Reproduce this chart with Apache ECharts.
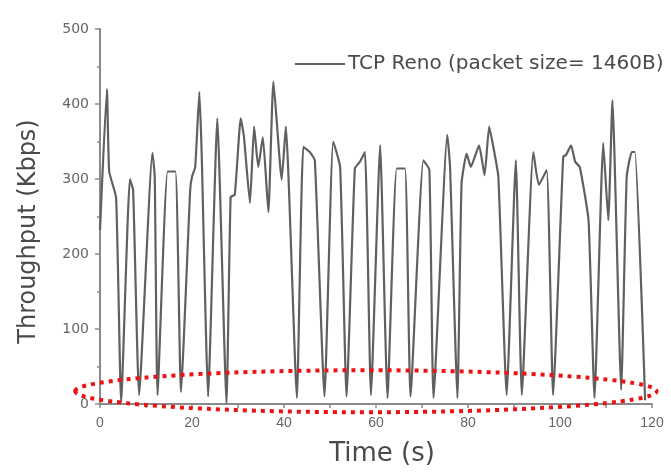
<!DOCTYPE html>
<html>
<head>
<meta charset="utf-8">
<script src="https://cdn.jsdelivr.net/npm/echarts@6/dist/echarts.min.js"></script>
<style>
html,body{margin:0;padding:0;background:#fff;}
#chart{width:671px;height:472px;}
</style>
</head>
<body>
<div id="chart"></div>
<script>
// TCP Reno throughput trace, time in seconds and throughput in Kbps
const timeS = [
  0, 1.5, 2, 3.5, 4.6,
  6.5, 7.2, 8.5,
  11.4, 11.9, 12.5,
  14.7, 16.4, 17.6,
  19.6, 20.0, 20.7, 21.6, 22.1, 23.5,
  25.5, 27.5,
  28.4, 29.3, 30.6, 31.3, 32.6, 33.5, 34.4, 35.4, 36.6, 37.7, 39.5, 40.4, 42.8,
  44.2, 45.6, 46.7, 48.8,
  50.7, 52.2, 53.6,
  55.4, 56.5, 57.6, 58.9,
  60.9, 62.5,
  64.5, 66.3, 67.5,
  70.3, 71.6, 72.5,
  75.5, 76.1, 77.7,
  78.6, 79.7, 80.6, 82.4, 83.6, 84.6, 85.5, 86.6, 88.4,
  90.4, 91.7,
  94.2, 95.4, 97.1, 98.5,
  100.7, 101.3, 102.4, 103.3, 104.3, 106.2, 107.5,
  109.4, 110.5, 111.4, 113.3,
  114.5, 115.6, 116.3, 118.5
];
const throughput = [
  232, 420, 310, 275, 2,
  300, 285, 12,
  335, 303, 12,
  310, 310, 16,
  285, 303, 316, 416, 335, 10,
  381, 1,
  276, 279, 381, 356, 268, 370, 316, 356, 256, 430, 299, 370, 8,
  343, 336, 325, 10,
  350, 316, 10,
  314, 323, 336, 12,
  345, 8,
  314, 314, 10,
  325, 312, 8,
  359, 316, 8,
  294, 334, 316, 345, 305, 370, 343, 303, 12,
  325, 12,
  336, 292, 312, 12,
  330, 332, 345, 323, 316, 245, 8,
  348, 245, 405, 19,
  303, 336, 336, 5
];
const seriesName = 'TCP Reno (packet size= 1460B)';
const xTicks = [0, 20, 40, 60, 80, 100, 120];
const yTicks = [0, 100, 200, 300, 400, 500];

const points = timeS.map((t, i) => [t, throughput[i]]);

const chart = echarts.init(document.getElementById('chart'), null, {renderer: 'canvas'});
const axisGrey = '#8a8a8a';
const textGrey = '#4a4a4a';
const font = 'DejaVu Sans, Verdana, sans-serif';

chart.setOption({
  animation: false,
  backgroundColor: '#fff',
  grid: {left: 100, right: 19, top: 29, bottom: 68, containLabel: false},
  legend: {
    left: 290, top: 49,
    itemWidth: 50, itemHeight: 2, itemGap: 0,
    textStyle: {fontFamily: font, fontSize: 20, color: textGrey, padding: [0, 0, 0, -2]},
    data: [{name: seriesName, icon: 'rect'}]
  },
  xAxis: {
    type: 'value', min: xTicks[0], max: xTicks[xTicks.length - 1], interval: 20,
    name: 'Time (s)', nameLocation: 'middle', nameGap: 37,
    nameTextStyle: {fontFamily: font, fontSize: 26, color: textGrey, padding: [0, 0, 0, 12]},
    axisLine: {show: true, lineStyle: {color: axisGrey, width: 2}},
    axisTick: {show: true, length: 4, lineStyle: {color: axisGrey, width: 1.5}},
    minorTick: {show: true, splitNumber: 2, length: 4, lineStyle: {color: axisGrey, width: 1.5}},
    axisLabel: {fontFamily: 'Liberation Sans, Arial, sans-serif', fontSize: 14, color: '#666', margin: 12},
    splitLine: {show: false}
  },
  yAxis: {
    type: 'value', min: yTicks[0], max: yTicks[yTicks.length - 1], interval: 100,
    name: 'Throughput (Kbps)', nameLocation: 'middle', nameGap: 59,
    nameTextStyle: {fontFamily: font, fontSize: 24, color: textGrey, padding: [0, 30, 0, 0]},
    axisLine: {show: true, lineStyle: {color: axisGrey, width: 2}},
    axisTick: {show: true, length: 5, lineStyle: {color: axisGrey, width: 1.5}},
    minorTick: {show: true, splitNumber: 2, length: 3, lineStyle: {color: axisGrey, width: 1.5}},
    axisLabel: {fontFamily: font, fontSize: 14, color: '#666', margin: 11},
    splitLine: {show: false}
  },
  series: [{
    name: seriesName,
    type: 'line',
    data: points,
    symbol: 'none',
    smooth: 0.15,
    lineStyle: {color: '#606060', width: 2.2},
    itemStyle: {color: '#606060'}
  }]
});

// Red dotted ellipse highlighting the near-zero throughput dips
const p1 = chart.convertToPixel({gridIndex: 0}, [-5.4, 45]);
const p2 = chart.convertToPixel({gridIndex: 0}, [121, -11]);
chart.setOption({
  graphic: [{
    type: 'ellipse',
    shape: {cx: (p1[0] + p2[0]) / 2, cy: (p1[1] + p2[1]) / 2, rx: (p2[0] - p1[0]) / 2, ry: (p2[1] - p1[1]) / 2},
    style: {fill: 'none', stroke: '#ee1111', lineWidth: 4, lineDash: [4, 5]},
    z: 100
  }]
});
</script>
</body>
</html>
